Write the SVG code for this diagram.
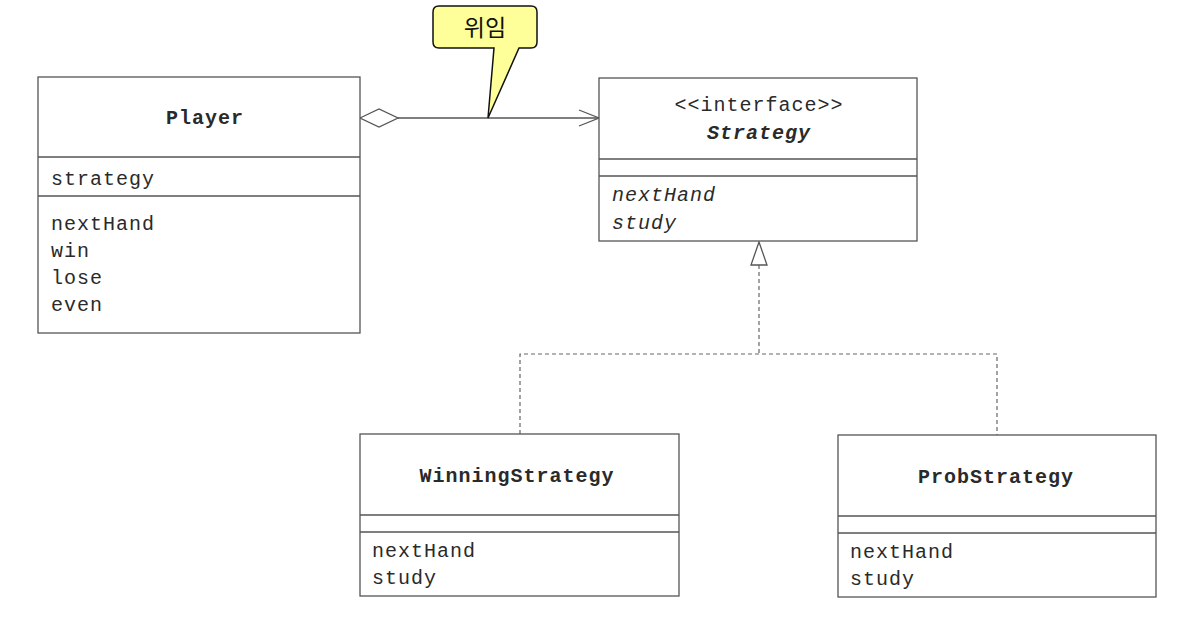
<svg xmlns="http://www.w3.org/2000/svg" width="1198" height="628" viewBox="0 0 1198 628">
<defs>
<style>
.box{fill:#fff;stroke:#555;stroke-width:1.3}
.div{stroke:#555;stroke-width:1.3}
.t{font-family:"Liberation Mono","Courier New",monospace;font-size:20px;letter-spacing:1px;fill:#2a2a2a}
.b{font-weight:bold}
.i{font-style:italic}
.c{text-anchor:middle}
.ln{fill:none;stroke:#555;stroke-width:1.3}
.dash{fill:none;stroke:#666;stroke-width:1.2;stroke-dasharray:4 3}
</style>
</defs>
<rect width="1198" height="628" fill="#fff"/>
<g id="connectors">
<line class="ln" x1="398" y1="118" x2="598" y2="118"/>
<polygon points="360,118 379,109 398,118 379,127" fill="#fff" stroke="#555" stroke-width="1.3"/>
<polyline class="ln" points="579,110 599,118 579,126"/>
<polyline class="dash" points="759,265 759,354"/>
<polyline class="dash" points="520,434 520,354 997,354 997,435"/>
<polygon points="759,242 751,265 767,265" fill="#fff" stroke="#555" stroke-width="1.3"/>
</g>
<g id="callout">
<path d="M439,6 H531 Q537,6 537,12 V42 Q537,48 531,48 H519 L488,118 L494,48 H439 Q433,48 433,42 V12 Q433,6 439,6 Z" fill="#ffff99" stroke="#111" stroke-width="1.5"/>
<text x="485" y="36" text-anchor="middle" font-family="'Noto Sans CJK KR','Noto Sans',sans-serif" font-size="23" fill="#111">위임</text>
</g>
<g id="player">
<rect class="box" x="38" y="77" width="322" height="256"/>
<line class="div" x1="38" y1="157" x2="360" y2="157"/>
<line class="div" x1="38" y1="196" x2="360" y2="196"/>
<text class="t b c" x="205" y="124">Player</text>
<text class="t" x="51" y="185">strategy</text>
<text class="t" x="51" y="230">nextHand</text>
<text class="t" x="51" y="257">win</text>
<text class="t" x="51" y="284">lose</text>
<text class="t" x="51" y="311">even</text>
</g>
<g id="strategy">
<rect class="box" x="599" y="78" width="318" height="163"/>
<line class="div" x1="599" y1="159" x2="917" y2="159"/>
<line class="div" x1="599" y1="176" x2="917" y2="176"/>
<text class="t c" x="759" y="111">&lt;&lt;interface&gt;&gt;</text>
<text class="t b i c" x="759" y="139">Strategy</text>
<text class="t i" x="612" y="201">nextHand</text>
<text class="t i" x="612" y="229">study</text>
</g>
<g id="winning">
<rect class="box" x="360" y="434" width="319" height="162"/>
<line class="div" x1="360" y1="515" x2="679" y2="515"/>
<line class="div" x1="360" y1="532" x2="679" y2="532"/>
<text class="t b c" x="517" y="482">WinningStrategy</text>
<text class="t" x="372" y="557">nextHand</text>
<text class="t" x="372" y="584">study</text>
</g>
<g id="prob">
<rect class="box" x="838" y="435" width="318" height="162"/>
<line class="div" x1="838" y1="516" x2="1156" y2="516"/>
<line class="div" x1="838" y1="533" x2="1156" y2="533"/>
<text class="t b c" x="996" y="483">ProbStrategy</text>
<text class="t" x="850" y="558">nextHand</text>
<text class="t" x="850" y="585">study</text>
</g>
</svg>
